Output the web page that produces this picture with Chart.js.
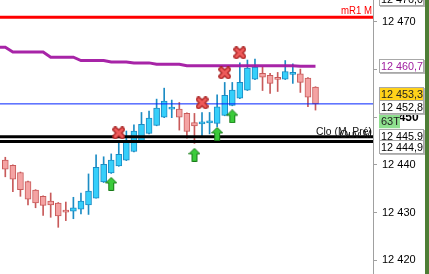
<!DOCTYPE html>
<html>
<head>
<meta charset="utf-8">
<script src="https://cdn.jsdelivr.net/npm/chart.js@4/dist/chart.umd.min.js"></script>
<style>
  html, body { margin: 0; padding: 0; background: #fff; }
  #wrap { width: 429px; height: 274px; position: relative; }
</style>
</head>
<body>
<div id="wrap"><canvas id="koers"></canvas></div>
<script>
// Kaarsen (lezing uit de grafiek)
const candleOpen  = [12441.0, 12439.9, 12438.4, 12436.5, 12434.7, 12433.4, 12432.4, 12432.0, 12430.5, 12430.3,
                     12430.7, 12431.6, 12433.0, 12436.4, 12438.3, 12439.8, 12441.0, 12442.8, 12445.0, 12446.6,
                     12448.3, 12450.0, 12451.7, 12451.7, 12450.8, 12448.9, 12448.6, 12448.8, 12448.7, 12450.4,
                     12452.5, 12454.0, 12455.7, 12458.0, 12459.2, 12458.8, 12458.0, 12458.0, 12459.0, 12459.1,
                     12458.2, 12456.3];
const candleClose = [12439.1, 12437.0, 12434.8, 12432.8, 12432.0, 12431.5, 12431.6, 12429.3, 12430.1, 12431.0,
                     12432.4, 12434.5, 12439.5, 12440.1, 12441.0, 12442.2, 12444.8, 12447.1, 12448.5, 12449.8,
                     12451.9, 12453.4, 12451.75, 12450.0, 12447.0, 12448.2, 12448.65, 12448.85, 12452.2, 12454.6,
                     12455.7, 12457.3, 12460.3, 12460.5, 12458.4, 12457.1, 12457.95, 12459.6, 12459.05, 12457.3,
                     12454.2, 12452.8];
const candleHigh  = [12441.6, 12440.0, 12438.5, 12436.6, 12434.8, 12433.5, 12434.1, 12432.1, 12432.2, 12433.2,
                     12434.1, 12438.1, 12442.1, 12441.7, 12442.3, 12444.7, 12447.1, 12448.4, 12451.0, 12451.3,
                     12453.8, 12456.1, 12453.6, 12453.1, 12450.9, 12450.8, 12451.0, 12451.0, 12454.7, 12457.3,
                     12457.3, 12461.4, 12462.0, 12462.2, 12460.6, 12459.2, 12459.4, 12461.9, 12461.2, 12460.1,
                     12458.3, 12456.4];
const candleLow   = [12437.5, 12434.4, 12433.4, 12431.6, 12431.0, 12429.4, 12429.0, 12426.9, 12428.3, 12428.7,
                     12429.7, 12429.6, 12433.0, 12436.3, 12438.2, 12439.7, 12440.9, 12442.7, 12444.9, 12446.5,
                     12448.2, 12449.9, 12449.9, 12447.3, 12445.6, 12444.5, 12446.1, 12446.5, 12448.0, 12450.3,
                     12452.4, 12453.9, 12455.6, 12457.9, 12455.6, 12455.0, 12455.4, 12457.9, 12457.1, 12455.2,
                     12452.2, 12451.5];

// Voortschrijdend gemiddelde (paarse lijn)
const maLine = [12464.7, 12463.7, 12463.7, 12463.7, 12463.7, 12463.7, 12462.6, 12462.6, 12462.6, 12462.6,
                12461.9, 12461.9, 12461.9, 12461.9, 12461.6, 12461.6, 12461.6, 12461.4, 12461.4, 12461.4,
                12461.1, 12461.1, 12461.1, 12461.1, 12460.8, 12460.8, 12460.8, 12460.8, 12460.8, 12460.8,
                12460.8, 12460.8, 12460.8, 12460.8, 12460.8, 12460.8, 12460.8, 12460.8, 12460.8, 12460.7,
                12460.7, 12460.7];

// Signalen: index van de kaars + koers
const sellIdx = [15, 26, 29, 31];
const sellVal = [12446.7, 12453.0, 12459.3, 12463.5];
const buyIdx  = [14, 25, 28, 30];
const buyVal  = [12436.0, 12442.1, 12446.5, 12450.2];

// Horizontale niveaus
const levelR1 = 12471.0;
const lastPrice = 12452.8;
const askPrice = 12453.3;
const closePrev = 12445.9;
const openM = 12444.9;
const topLevel = 12476.0;
const lastMA = 12460.7;
const tickCount = '63T';

const yTicks = [12420, 12430, 12440, 12450, 12460, 12470];
const xMin = -0.7, xMax = 48.6;

function fmt(v, d) {
    const p = v.toFixed(d).split('.');
    const int = p[0].replace(/\B(?=(\d{3})+(?!\d))/g, ' ');
    return d ? int + ',' + p[1] : int;
}

const idx = candleOpen.map((_, i) => i);
const isUp = idx.map(i => candleClose[i] >= candleOpen[i]);

// Kleine tekeningen voor de signalen
function maakKruis() {
    const c = document.createElement('canvas');
    c.width = 13; c.height = 13;
    const g = c.getContext('2d');
    g.lineCap = 'round';
    [['#A82020', 5.5], ['#EE5A5A', 3]].forEach(([col, w]) => {
        g.strokeStyle = col; g.lineWidth = w;
        g.beginPath();
        g.moveTo(3, 3); g.lineTo(10, 10);
        g.moveTo(10, 3); g.lineTo(3, 10);
        g.stroke();
    });
    return c;
}
function maakPijl() {
    const c = document.createElement('canvas');
    c.width = 12; c.height = 14;
    const g = c.getContext('2d');
    g.beginPath();
    g.moveTo(6, 0.5); g.lineTo(11.5, 6); g.lineTo(8.5, 6); g.lineTo(8.5, 13.5);
    g.lineTo(3.5, 13.5); g.lineTo(3.5, 6); g.lineTo(0.5, 6); g.closePath();
    g.fillStyle = '#3BCB3B'; g.fill();
    g.strokeStyle = '#187A18'; g.lineWidth = 1; g.stroke();
    return c;
}

function niveau(v, kleur, dikte) {
    return {
        type: 'line', data: [{ x: xMin, y: v }, { x: xMax, y: v }],
        borderColor: kleur, borderWidth: dikte, pointRadius: 0, order: 1
    };
}

// Labels rechts op de as
const asLabels = [
    { v: topLevel, text: fmt(topLevel, 1), color: '#000', bg: '#fff', dy: 6 },
    { v: lastMA, text: fmt(lastMA, 1), color: '#A020A0', bg: '#fff', dy: 0 },
    { v: askPrice, text: fmt(askPrice, 1), color: '#222', bg: '#FFD21A', dy: -7 },
    { v: lastPrice, text: fmt(lastPrice, 1), color: '#000', bg: '#fff', dy: 3 },
    { v: closePrev, text: fmt(closePrev, 1), color: '#000', bg: '#fff', dy: -1 },
    { v: openM, text: fmt(openM, 1), color: '#000', bg: '#fff', dy: 5 }
];

const overlay = {
    id: 'overlay',
    afterDraw(chart) {
        const ctx = chart.ctx;
        const y = chart.scales.y;
        const right = chart.chartArea.right;
        ctx.save();

        // teksten bij de lijnen
        ctx.textAlign = 'right';
        ctx.textBaseline = 'alphabetic';
        ctx.font = '11px "Liberation Sans", Arial, sans-serif';
        ctx.fillStyle = '#FF0000';
        ctx.fillText('mR1 M', right - 1, y.getPixelForValue(levelR1) - 3, 31);
        ctx.fillStyle = '#111';
        ctx.fillText('Clo (M, Pré)', right - 1, y.getPixelForValue(closePrev) - 2, 56);
        ctx.fillText('Ouv M', right - 1, y.getPixelForValue(openM) - 4);

        // groene rand rechts
        ctx.fillStyle = '#4E7E36';
        ctx.fillRect(425, 0, 4, chart.height);

        // tikkenteller
        const ty = y.getPixelForValue(12450) + 4;
        ctx.fillStyle = '#8EE08E';
        ctx.fillRect(379, ty - 7, 21, 14);
        ctx.fillStyle = '#222';
        ctx.textAlign = 'left';
        ctx.textBaseline = 'middle';
        ctx.font = '11px "Liberation Sans", Arial, sans-serif';
        ctx.fillText(tickCount, 381, ty + 0.5);

        // koerslabels
        asLabels.forEach(l => {
            const cy = Math.round(y.getPixelForValue(l.v) + l.dy);
            ctx.fillStyle = '#B8B8B8';
            ctx.fillRect(380, cy - 6, 45, 14);
            ctx.fillStyle = l.bg;
            ctx.fillRect(379, cy - 7, 45, 14);
            ctx.strokeStyle = '#A8A8A8';
            ctx.lineWidth = 1;
            ctx.strokeRect(379.5, cy - 6.5, 44, 13);
            ctx.fillStyle = l.color;
            ctx.fillText(l.text, 381, cy + 0.5, 42);
        });
        ctx.restore();
    }
};

new Chart(document.getElementById('koers'), {
    type: 'bar',
    data: {
        datasets: [
            {
                // lonten
                type: 'bar',
                data: idx.map(i => ({ x: i, y: [candleLow[i], candleHigh[i]] })),
                backgroundColor: idx.map(i => isUp[i] ? '#1C8CC4' : '#C85A5A'),
                barThickness: 1, grouped: false, order: 6
            },
            {
                // lichamen
                type: 'bar',
                data: idx.map(i => ({ x: i, y: [candleOpen[i], candleClose[i]] })),
                backgroundColor: idx.map(i => isUp[i] ? '#36CFFA' : '#F4A3A3'),
                borderColor: idx.map(i => isUp[i] ? '#1C8CC4' : '#C85A5A'),
                borderWidth: 1, borderSkipped: false, minBarLength: 2,
                barThickness: 6, grouped: false, order: 5
            },
            {
                type: 'line',
                data: [{ x: xMin, y: maLine[0] }].concat(idx.map(i => ({ x: i, y: maLine[i] }))),
                borderColor: 'rgba(162,24,162,0.95)', borderWidth: 3,
                pointRadius: 0, tension: 0, order: 2
            },
            niveau(levelR1, '#FF0000', 3),
            niveau(lastPrice, '#0022FF', 1),
            niveau(closePrev, '#000000', 3),
            niveau(openM, '#000000', 3),
            {
                type: 'scatter',
                data: sellIdx.map((x, k) => ({ x: x, y: sellVal[k] })),
                pointStyle: maakKruis(), pointRadius: 6, order: 0
            },
            {
                type: 'scatter',
                data: buyIdx.map((x, k) => ({ x: x, y: buyVal[k] })),
                pointStyle: maakPijl(), pointRadius: 6, order: 0
            }
        ]
    },
    options: {
        responsive: true,
        maintainAspectRatio: false,
        animation: false,
        layout: { padding: 0, autoPadding: false },
        plugins: { legend: { display: false }, tooltip: { enabled: false } },
        scales: {
            x: { type: 'linear', offset: false, min: xMin, max: xMax, display: false },
            y: {
                position: 'right',
                min: 12417.1, max: 12474.6,
                afterBuildTicks: s => { s.ticks = yTicks.map(v => ({ value: v })); },
                afterFit: s => { s.width = 56; s.paddingTop = 0; s.paddingBottom = 0; },
                ticks: {
                    autoSkip: false,
                    callback: v => fmt(v, 0),
                    color: '#000', padding: 5,
                    font: c => c.tick && c.tick.value === 12450
                        ? { family: '"Liberation Sans", Arial, sans-serif', size: 12, weight: 'bold' }
                        : { family: '"Liberation Sans", Arial, sans-serif', size: 11 }
                },
                grid: { drawOnChartArea: false, tickLength: 4, color: '#A0A0A0' },
                border: { color: '#A0A0A0' }
            }
        }
    },
    plugins: [overlay]
});
</script>
</body>
</html>
